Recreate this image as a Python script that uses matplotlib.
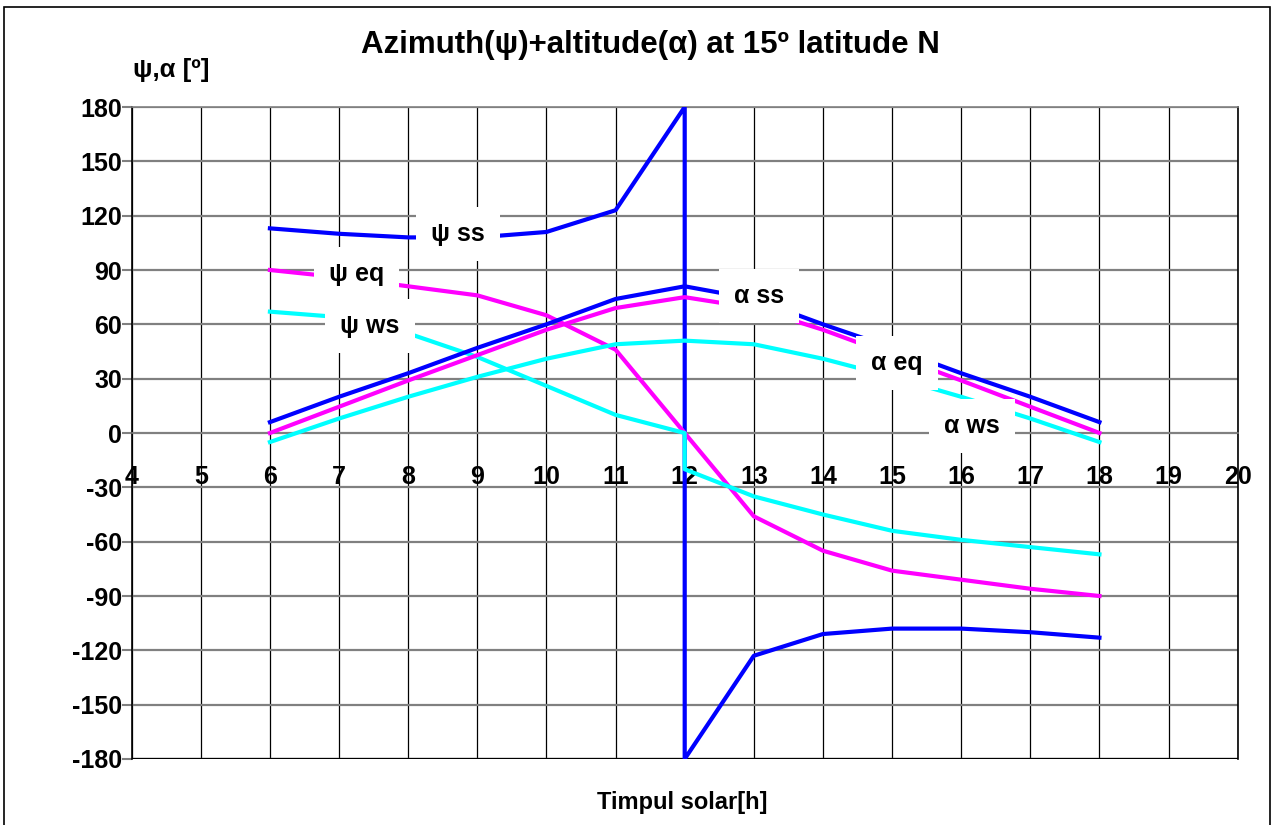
import matplotlib.pyplot as plt
from matplotlib.patches import Rectangle

# hours of the day (12 appears twice where the azimuth jumps)
hours = [6, 7, 8, 9, 10, 11, 12, 13, 14, 15, 16, 17, 18]
hours_jump = [6, 7, 8, 9, 10, 11, 12, 12, 13, 14, 15, 16, 17, 18]

# azimuth psi
psi_ss = [113, 110, 108, 108, 111, 123, 180, -180, -123, -111, -108, -108, -110, -113]
psi_eq = [90, 86, 81, 76, 65, 46, 0, -46, -65, -76, -81, -86, -90]
psi_ws = [67, 64, 55, 42, 26, 10, 0, -20, -35, -45, -54, -59, -63, -67]

# altitude alpha
alpha_ss = [6, 20, 33, 47, 60, 74, 81, 74, 60, 47, 33, 20, 6]
alpha_eq = [0, 14.5, 29, 43, 57, 69, 75, 69, 57, 43, 29, 14.5, 0]
alpha_ws = [-5, 8, 20, 31, 41, 49, 51, 49, 41, 31, 20, 8, -5]

x_ticks = list(range(4, 21))
y_ticks = list(range(-180, 181, 30))

# label text and where it sits (x in h, y in degrees)
labels = ["ψ ss", "ψ eq", "ψ ws", "α ss", "α eq", "α ws"]
label_x = [8.72, 7.25, 7.45, 13.07, 15.07, 16.16]
label_y = [110, 88, 59, 75.6, 38.6, 4]

BLUE = "#0000FF"
MAGENTA = "#FF00FF"
CYAN = "#00FFFF"
GRAY = "#808080"

plt.rcParams["font.family"] = ["Liberation Sans", "DejaVu Sans"]
plt.rcParams["font.weight"] = "bold"
plt.rcParams["axes.unicode_minus"] = False

fig = plt.figure(figsize=(12.71, 8.25), dpi=100)
ax = fig.add_axes([0.1036, 0.08, 0.8702, 0.7903])

ax.set_xlim(4, 20)
ax.set_ylim(-180, 180)

# grid: black verticals, gray horizontals
for x in x_ticks:
    ax.axvline(x, color="black", lw=0.9, zorder=1)
for y in y_ticks:
    ax.axhline(y, color=GRAY, lw=1.6, zorder=1)
ax.axhline(-180, color="black", lw=1.6, zorder=1.5)

ax.plot(hours_jump, psi_ss, color=BLUE, lw=3, zorder=3)
ax.plot(hours, psi_eq, color=MAGENTA, lw=3, zorder=3)
ax.plot(hours_jump, psi_ws, color=CYAN, lw=3, zorder=3)
ax.plot(hours, alpha_ss, color=BLUE, lw=3, zorder=3)
ax.plot(hours, alpha_eq, color=MAGENTA, lw=3, zorder=3)
ax.plot(hours, alpha_ws, color=CYAN, lw=3, zorder=3)

for txt, lx, ly in zip(labels, label_x, label_y):
    ax.text(lx, ly, txt, ha="center", va="center", fontsize=18, fontweight="bold",
            zorder=5, bbox=dict(boxstyle="square,pad=0.6", fc="white", ec="none"))

ax.spines["bottom"].set_position(("data", 0))
ax.spines["bottom"].set_color(GRAY)
ax.spines["top"].set_color(GRAY)
ax.spines["left"].set_color("black")
ax.spines["right"].set_color("black")
for s in ax.spines.values():
    s.set_linewidth(1.2)

ax.set_xticks(x_ticks)
ax.set_yticks(y_ticks)
ax.tick_params(axis="x", length=0, pad=23, labelsize=18)
ax.tick_params(axis="y", length=7, color=GRAY, width=1.5, pad=0, labelsize=18)
for lab in ax.get_xticklabels() + ax.get_yticklabels():
    lab.set_fontweight("bold")

fig.text(0.512, 0.945, "Azimuth(ψ)+altitude(α) at 15º latitude N", ha="center", va="center",
         fontsize=22.5, fontweight="bold")
fig.text(0.135, 0.915, "ψ,α [º]", ha="center", va="center", fontsize=18.5, fontweight="bold")
fig.text(0.537, 0.027, "Timpul solar[h]", ha="center", va="center", fontsize=17, fontweight="bold")

fig.patches.append(Rectangle((0.003, -0.01), 0.996, 1.0015, transform=fig.transFigure,
                             fill=False, ec="black", lw=1.2))

fig.savefig("out.png", dpi=100)
